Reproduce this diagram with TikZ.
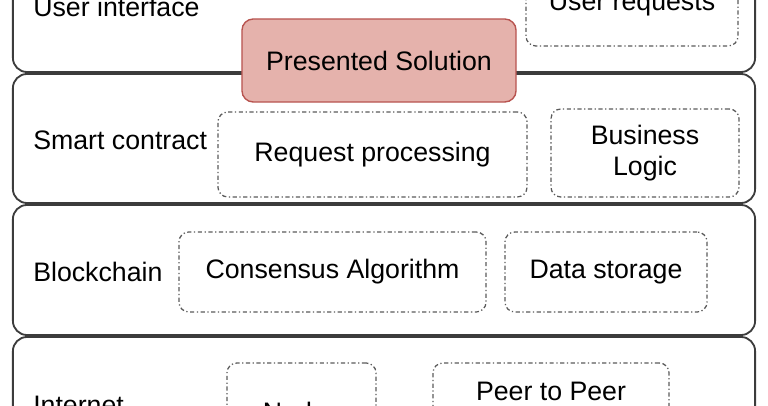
\documentclass[tikz,border=0pt]{standalone}
\usepackage{fontspec}
\setmainfont{Liberation Sans}
\definecolor{solfill}{RGB}{229,178,172}
\definecolor{soldraw}{RGB}{184,84,80}
\definecolor{layerline}{RGB}{60,60,60}
\definecolor{partline}{RGB}{90,90,90}

\begin{document}
\begin{tikzpicture}[x=0.025cm, y=-0.025cm,
	layer/.style={rectangle, rounded corners=10pt, draw=layerline, line width=1.3pt, minimum width=18.55cm, inner sep=0mm},
	part/.style={rectangle, rounded corners=7pt, draw=partline, line width=0.9pt, dash pattern=on 3pt off 1.8pt on 0.9pt off 1.8pt, inner sep=0mm, align=center},
	solution/.style={rectangle, rounded corners=8pt, draw=soldraw, fill=solfill, line width=1pt, inner sep=0mm},
	lbl/.style={anchor=base west, inner sep=0mm},
	font=\fontsize{19}{22}\selectfont]

	\useasboundingbox (0,0) rectangle (768,406);
	\clip (0,0) rectangle (768,406);

	% layers
	\node[layer, minimum height=3.25cm] at (384,7) (ui) {};
	\node[layer, minimum height=3.225cm] at (384,138.5) (sc) {};
	\node[layer, minimum height=3.25cm] at (384,270) (bc) {};
	\node[layer, minimum height=3.25cm] at (384,402) (net) {};

	\node[lbl] at (33,17) (uilbl) {User interface};
	\node[lbl] at (33,150) (sclbl) {Smart contract};
	\node[lbl] at (33,281.5) (bclbl) {Blockchain};
	\node[lbl] at (33,414) (netlbl) {Internet};

	% parts of each layer
	\node[part, minimum width=5.3cm, minimum height=2.1cm] at (632,4) (req) {User requests};

	\node[part, minimum width=7.725cm, minimum height=2.125cm] at (372.5,154.5) (proc) {Request processing};
	\node[part, minimum width=4.7cm, minimum height=2.2cm] at (645,153) (logic) {Business\\Logic};

	\node[part, minimum width=7.675cm, minimum height=2cm] at (332.5,272) (cons) {Consensus Algorithm};
	\node[part, minimum width=5.05cm, minimum height=2cm] at (606,272) (store) {Data storage};

	\node[part, minimum width=3.725cm, minimum height=2.45cm] at (301.5,412) (nodes) {Nodes};
	\node[part, minimum width=5.9cm, minimum height=2.45cm, text depth=1.05cm] at (551,412) (peer) {Peer to Peer};

	\node[solution, minimum width=6.85cm, minimum height=2.075cm] at (379,60.5) (sol) {Presented Solution};

\end{tikzpicture}
\end{document}
